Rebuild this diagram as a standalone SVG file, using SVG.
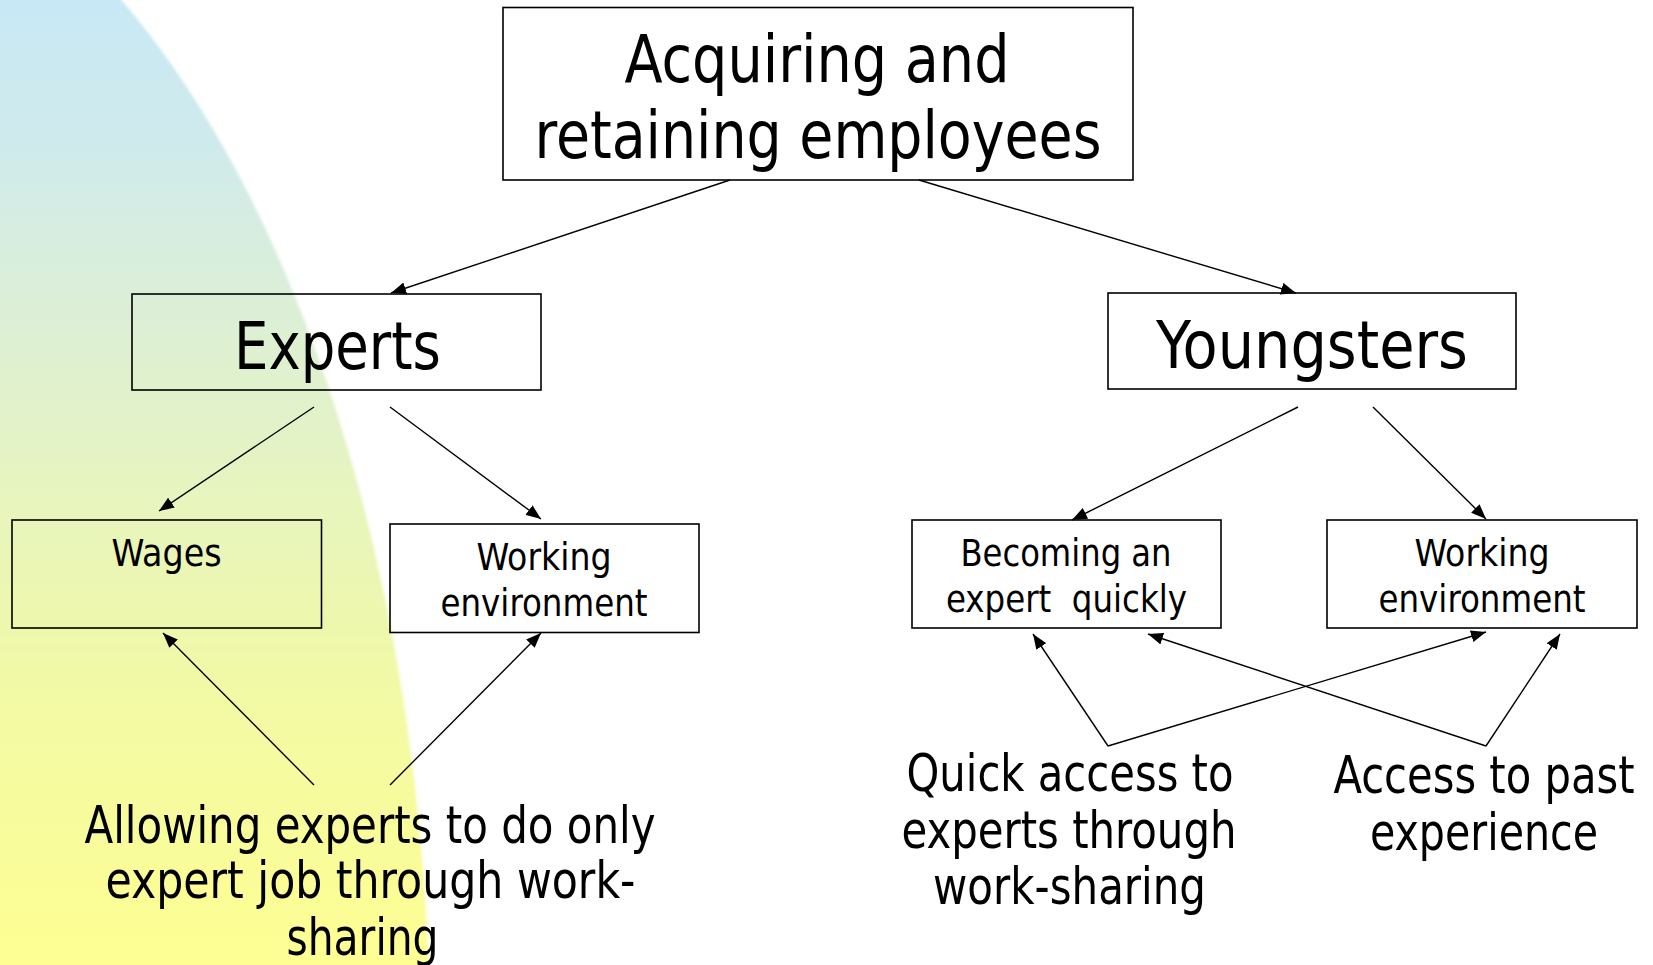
<svg xmlns="http://www.w3.org/2000/svg" width="1653" height="965" viewBox="0 0 1653 965">
  <style>
    .box { fill: none; stroke: #000; stroke-width: 1.6; }
    .t { font-family: "DejaVu Sans Condensed", "DejaVu Sans", sans-serif; fill: #000; text-anchor: middle; }
    .big { font-size: 66px; }
    .mid { font-size: 51px; }
    .small { font-size: 37px; }
    .conn { fill: none; stroke: #000; stroke-width: 1.4; marker-end: url(#arrow); }
  </style>
  <defs>
    <linearGradient id="bg" gradientUnits="userSpaceOnUse" x1="0" y1="0" x2="0" y2="965">
      <stop offset="0" stop-color="#c8e8f5"/>
      <stop offset="0.15" stop-color="#cfeaec"/>
      <stop offset="0.32" stop-color="#dcefd6"/>
      <stop offset="0.5" stop-color="#e6f4c0"/>
      <stop offset="0.7" stop-color="#f1f9a6"/>
      <stop offset="1" stop-color="#fefe92"/>
    </linearGradient>
    <filter id="soft" x="-0.1" y="-0.1" width="1.2" height="1.2">
      <feGaussianBlur stdDeviation="1.5"/>
    </filter>
    <marker id="arrow" markerUnits="userSpaceOnUse" markerWidth="16" markerHeight="12" refX="15" refY="6" orient="auto">
      <path d="M0,0 L15,6 L0,12 z" fill="#000"/>
    </marker>
  </defs>

  <rect x="0" y="0" width="1653" height="965" fill="#fff"/>
  <ellipse cx="-214" cy="1050" rx="644" ry="1230" fill="url(#bg)" filter="url(#soft)"/>

  <g id="connectors">
    <line class="conn" x1="730" y1="180" x2="391" y2="293"/>
    <line class="conn" x1="919" y1="180" x2="1296" y2="293"/>
    <line class="conn" x1="314" y1="407" x2="159" y2="511"/>
    <line class="conn" x1="390" y1="407" x2="541" y2="519"/>
    <line class="conn" x1="1298" y1="407" x2="1072" y2="520"/>
    <line class="conn" x1="1373" y1="407" x2="1486" y2="519"/>
    <line class="conn" x1="314" y1="785" x2="163" y2="633"/>
    <line class="conn" x1="390" y1="785" x2="541" y2="633"/>
    <polyline class="conn" points="1108,746 1033,634"/>
    <polyline class="conn" points="1108,746 1486,632"/>
    <polyline class="conn" points="1486,746 1148,634"/>
    <polyline class="conn" points="1486,746 1560,634"/>
  </g>

  <g id="node-top">
    <rect class="box" x="503" y="7.5" width="630" height="172.5"/>
    <text class="t big" x="817" y="82" textLength="385" lengthAdjust="spacingAndGlyphs">Acquiring and</text>
    <text class="t big" x="818" y="158" textLength="567" lengthAdjust="spacingAndGlyphs">retaining employees</text>
  </g>

  <g id="node-experts">
    <rect class="box" x="132" y="294" width="409" height="96"/>
    <text class="t big" x="337.5" y="369" textLength="207" lengthAdjust="spacingAndGlyphs">Experts</text>
  </g>

  <g id="node-youngsters">
    <rect class="box" x="1108" y="293" width="408" height="96"/>
    <text class="t big" x="1312" y="368" textLength="312" lengthAdjust="spacingAndGlyphs">Youngsters</text>
  </g>

  <g id="node-wages">
    <rect class="box" x="12" y="520" width="309.5" height="108"/>
    <text class="t small" x="166.5" y="566" textLength="110" lengthAdjust="spacingAndGlyphs">Wages</text>
  </g>

  <g id="node-working-left">
    <rect class="box" x="390" y="524" width="309" height="108.5"/>
    <text class="t small" x="544" y="570" textLength="135" lengthAdjust="spacingAndGlyphs">Working</text>
    <text class="t small" x="544" y="615.5" textLength="207" lengthAdjust="spacingAndGlyphs">environment</text>
  </g>

  <g id="node-becoming">
    <rect class="box" x="912" y="520" width="309" height="108"/>
    <text class="t small" x="1066" y="566" textLength="211" lengthAdjust="spacingAndGlyphs">Becoming an</text>
    <text class="t small" x="1066.5" y="611.5" textLength="241" lengthAdjust="spacingAndGlyphs" xml:space="preserve">expert  quickly</text>
  </g>

  <g id="node-working-right">
    <rect class="box" x="1327" y="520" width="310" height="108"/>
    <text class="t small" x="1482" y="566" textLength="135" lengthAdjust="spacingAndGlyphs">Working</text>
    <text class="t small" x="1482" y="611.5" textLength="207" lengthAdjust="spacingAndGlyphs">environment</text>
  </g>

  <g id="node-allowing">
    <text class="t mid" x="370" y="843" textLength="571" lengthAdjust="spacingAndGlyphs">Allowing experts to do only</text>
    <text class="t mid" x="370.5" y="898" textLength="530" lengthAdjust="spacingAndGlyphs">expert job through work-</text>
    <text class="t mid" x="362.5" y="955" textLength="152" lengthAdjust="spacingAndGlyphs">sharing</text>
  </g>

  <g id="node-quick">
    <text class="t mid" x="1070" y="790.5" textLength="327" lengthAdjust="spacingAndGlyphs">Quick access to</text>
    <text class="t mid" x="1069" y="847.5" textLength="335" lengthAdjust="spacingAndGlyphs">experts through</text>
    <text class="t mid" x="1069.5" y="903.5" textLength="273" lengthAdjust="spacingAndGlyphs">work-sharing</text>
  </g>

  <g id="node-past">
    <text class="t mid" x="1484" y="793" textLength="301" lengthAdjust="spacingAndGlyphs">Access to past</text>
    <text class="t mid" x="1484" y="850" textLength="228" lengthAdjust="spacingAndGlyphs">experience</text>
  </g>
</svg>
